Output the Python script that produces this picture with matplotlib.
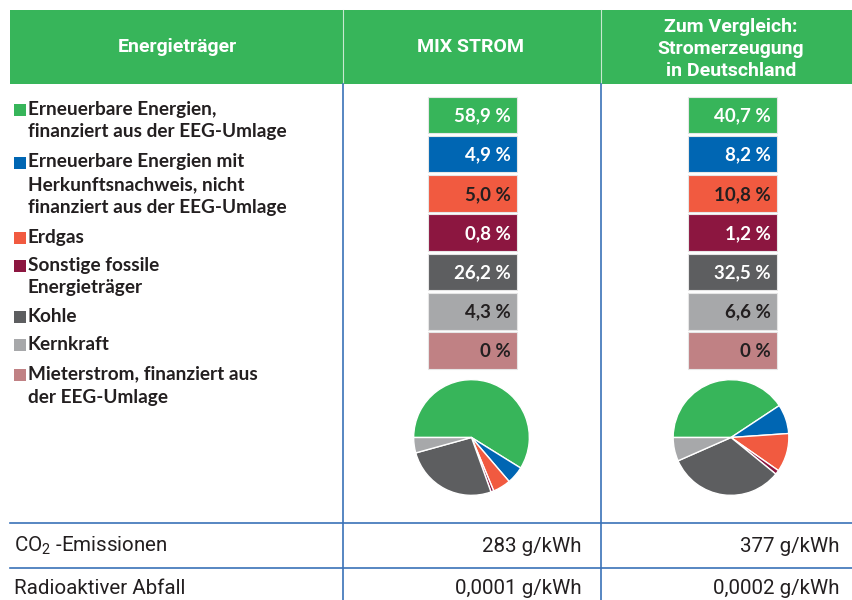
import matplotlib
matplotlib.use("Agg")
import matplotlib.pyplot as plt
from matplotlib.patches import Rectangle
from matplotlib import font_manager

# ---- data ----
categories = [
    "Erneuerbare Energien,\nfinanziert aus der EEG-Umlage",
    "Erneuerbare Energien mit\nHerkunftsnachweis, nicht\nfinanziert aus der EEG-Umlage",
    "Erdgas",
    "Sonstige fossile\nEnergieträger",
    "Kohle",
    "Kernkraft",
    "Mieterstrom, finanziert aus\nder EEG-Umlage",
]
mix_strom = [58.9, 4.9, 5.0, 0.8, 26.2, 4.3, 0.0]
deutschland = [40.7, 8.2, 10.8, 1.2, 32.5, 6.6, 0.0]
mix_labels = ["58,9 %", "4,9 %", "5,0 %", "0,8 %", "26,2 %", "4,3 %", "0 %"]
de_labels = ["40,7 %", "8,2 %", "10,8 %", "1,2 %", "32,5 %", "6,6 %", "0 %"]
colors = ["#37b55a", "#0066b3", "#f15a40", "#8c1640", "#5d5e60", "#a7a8aa", "#c08184"]
text_colors = ["white", "white", "#231f20", "white", "white", "#231f20", "#231f20"]
header_labels = ["Energieträger", "MIX STROM", "Zum Vergleich:\nStromerzeugung\nin Deutschland"]
row_labels = ["CO$_2$ -Emissionen", "Radioaktiver Abfall"]
row_mix = ["283 g/kWh", "0,0001 g/kWh"]
row_de = ["377 g/kWh", "0,0002 g/kWh"]

W, H = 853, 600
GREEN = "#37b55a"
LINE = "#3a72b8"
BOLD = "Lato"
DARK = "#231f20"

names = {f.name for f in font_manager.fontManager.ttflist}
NARROW = "Liberation Sans Narrow" if "Liberation Sans Narrow" in names else "Roboto"

plt.rcParams["mathtext.default"] = "regular"
fig = plt.figure(figsize=(W / 100, H / 100), dpi=100)
ax = fig.add_axes([0, 0, 1, 1])
ax.set_xlim(0, W)
ax.set_ylim(H, 0)
ax.axis("off")

# header band
ax.add_patch(Rectangle((10, 10), W - 10, 74, facecolor=GREEN, edgecolor="none"))
for x in (343, 601):
    ax.plot([x, x], [10, 84], color="#c8e8d0", lw=0.8)
    ax.plot([x, x], [84, H], color=LINE, lw=1.2)
hdr_size = 14.5 if NARROW == "Liberation Sans Narrow" else 14
hdr_kw = dict(color="white", fontweight="bold", fontsize=hdr_size, family=NARROW,
              ha="center", va="baseline")
ax.text(177, 52, header_labels[0], **hdr_kw)
ax.text(471, 52, header_labels[1], **hdr_kw)
for j, line in enumerate(header_labels[2].split("\n")):
    ax.text(731, 32 + j * 22, line, **hdr_kw)

# legend entries (each line placed separately)
legend_y = [108, 161, 236, 264, 315, 343, 373]
line_gap = 23
for cat, col, y in zip(categories, colors, legend_y):
    ax.add_patch(Rectangle((14, y - 4), 12, 12, facecolor=col, edgecolor="none"))
    for k, line in enumerate(cat.split("\n")):
        ax.text(28, y + k * line_gap + 6.5, line, fontsize=13.7, fontweight="bold",
                family=BOLD, color=DARK, va="baseline", ha="left")

# value boxes
box_top = 96.5
pitch = 39.3
bh = 36.5
for x0, vals, labs in ((428, mix_strom, mix_labels), (688, deutschland, de_labels)):
    for i, (v, lab) in enumerate(zip(vals, labs)):
        y0 = box_top + i * pitch
        ax.add_patch(Rectangle((x0, y0), 89, bh, facecolor=colors[i],
                               edgecolor="#e6e6e6", lw=0.8))
        ax.text(x0 + 83, y0 + bh / 2 + 1, lab, color=text_colors[i], fontsize=13.5,
                fontweight="bold", family=BOLD, ha="right", va="center")

# pies
def add_pie(cx, cy, r, vals):
    pa = fig.add_axes([(cx - r) / W, 1 - (cy + r) / H, 2 * r / W, 2 * r / H])
    v = [a for a in vals if a > 0]
    c = [colors[i] for i, a in enumerate(vals) if a > 0]
    pa.pie(v, colors=c, startangle=180, counterclock=False,
           wedgeprops=dict(edgecolor="white", linewidth=1.0))
    pa.set_aspect("equal")
    pa.set_xlim(-1.02, 1.02)
    pa.set_ylim(-1.02, 1.02)
    pa.axis("off")

add_pie(471.5, 437.5, 59, mix_strom)
add_pie(731, 437.5, 59, deutschland)

# bottom rows
for y in (523, 568):
    ax.plot([10, W], [y, y], color=LINE, lw=1.2)
row_y = [546, 589]
row_size = 15.5 if NARROW == "Liberation Sans Narrow" else 14.8
for lab, m, d, y in zip(row_labels, row_mix, row_de, row_y):
    kw = dict(fontsize=row_size, family=NARROW, color=DARK, va="center")
    ax.text(14, y, lab, ha="left", **kw)
    ax.text(582, y, m, ha="right", **kw)
    ax.text(840, y, d, ha="right", **kw)

fig.savefig("out.png", dpi=100)
